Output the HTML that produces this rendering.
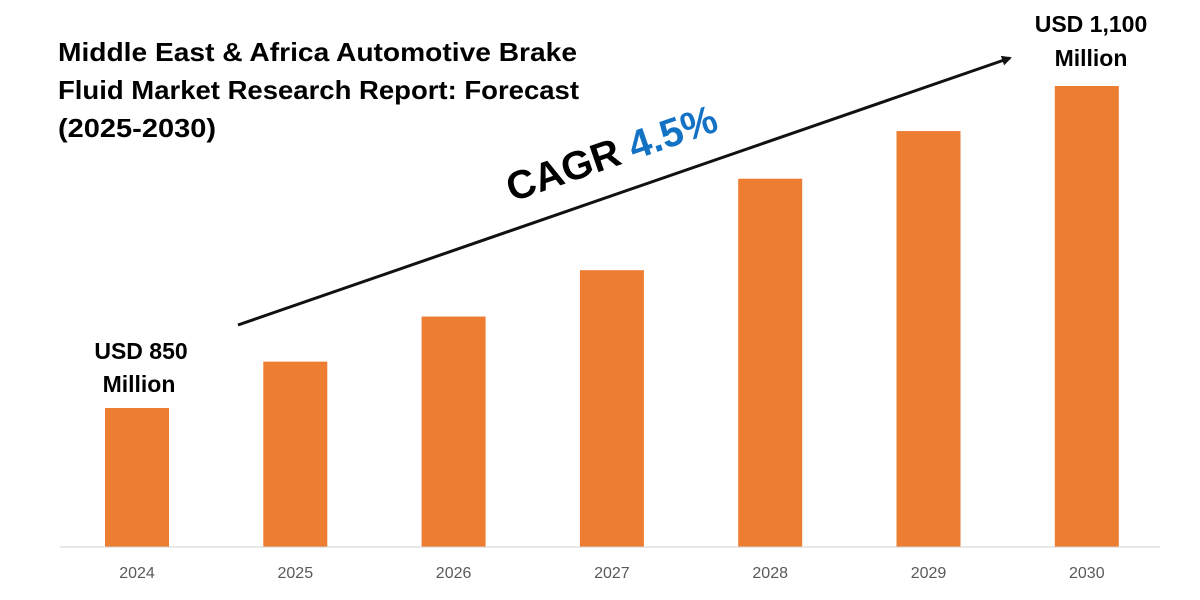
<!DOCTYPE html>
<html><head><meta charset="utf-8"><style>
html,body{margin:0;padding:0;background:#fff;}
svg{display:block;font-family:"Liberation Sans",sans-serif;}
</style></head><body>
<svg id="chart" width="1200" height="600" viewBox="0 0 1200 600">
<defs><marker id="ah" markerWidth="10" markerHeight="10" refX="8" refY="5" orient="auto" markerUnits="userSpaceOnUse"><path d="M0,0 L10,5 L0,10 z" fill="#111"/></marker></defs>
<g font-weight="bold" font-size="26" fill="#000">
<text x="58" y="61" textLength="519" lengthAdjust="spacingAndGlyphs">Middle East &amp; Africa Automotive Brake</text>
<text x="58" y="99" textLength="521" lengthAdjust="spacingAndGlyphs">Fluid Market Research Report: Forecast</text>
<text x="58" y="137" textLength="158" lengthAdjust="spacingAndGlyphs">(2025-2030)</text>
</g>
<g id="bars"></g>
<line x1="60" y1="547" x2="1160" y2="547" stroke="#d0d0d0" stroke-width="1"/>
<g id="xlabels"></g>
<line x1="238" y1="325" x2="1010" y2="58" stroke="#111" stroke-width="3" marker-end="url(#ah)"/>
<text transform="translate(512,202) rotate(-19)" font-size="40" font-weight="bold"><tspan fill="#000">CAGR </tspan><tspan fill="#1372c4">4.5%</tspan></text>
<g font-weight="bold" font-size="23" text-anchor="middle" fill="#000">
<text x="141" y="359">USD 850</text><text x="139" y="392">Million</text></g>
<g font-weight="bold" font-size="23" text-anchor="middle" fill="#000">
<text x="1091" y="32">USD 1,100</text><text x="1091" y="66">Million</text></g>
</svg>
<script>
const categories = ["2024","2025","2026","2027","2028","2029","2030"];
const values = [850, 886, 921, 957, 1028, 1065, 1100];
const ns = "http://www.w3.org/2000/svg";
function xPos(i){ return 105 + i*158.3; }
function yPos(v){ return 408 - (v-850)*1.288; }
const baseY = 547, barW = 64;
const bg = document.getElementById("bars"), lg = document.getElementById("xlabels");
categories.forEach((c,i)=>{
  const r = document.createElementNS(ns,"rect");
  const y = yPos(values[i]);
  r.setAttribute("x", xPos(i)); r.setAttribute("y", y);
  r.setAttribute("width", barW); r.setAttribute("height", baseY - y);
  r.setAttribute("fill", "#ed7d31");
  
  
  bg.appendChild(r);
  const t = document.createElementNS(ns,"text");
  t.setAttribute("x", xPos(i) + barW/2); t.setAttribute("y", 578);
  t.setAttribute("text-anchor","middle"); t.setAttribute("font-size","16"); t.setAttribute("fill","#595959");
  t.textContent = c;
  
  
  lg.appendChild(t);
});
</script>
</body></html>
